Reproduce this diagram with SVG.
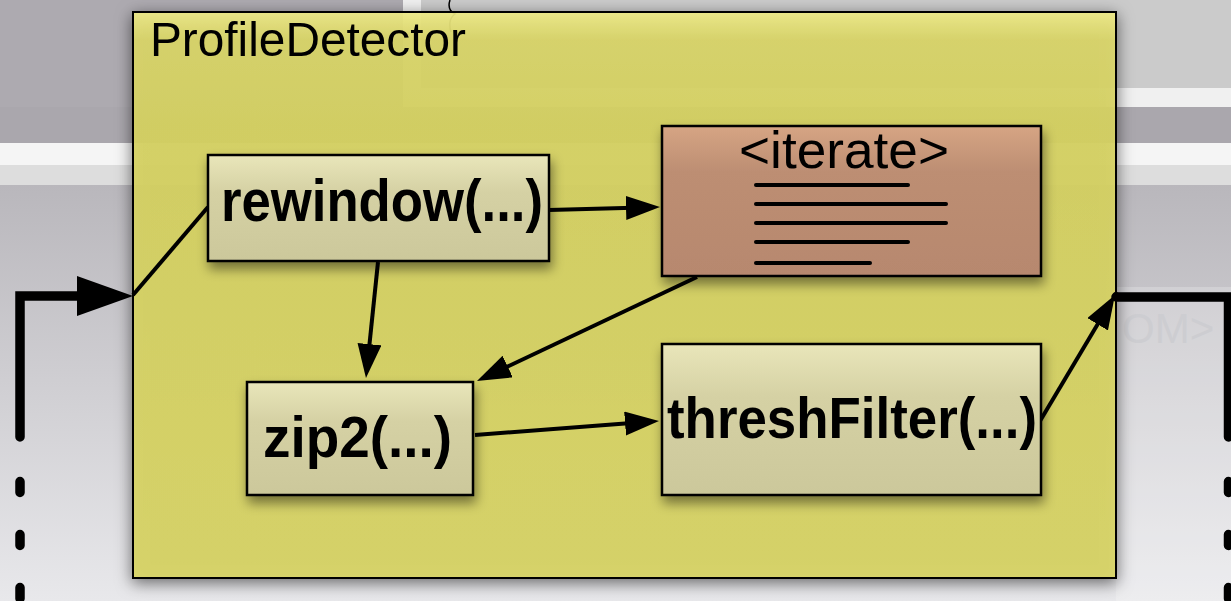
<svg xmlns="http://www.w3.org/2000/svg" width="1231" height="601" viewBox="0 0 1231 601">
  <defs>
    <linearGradient id="bgLow" x1="0" y1="185" x2="0" y2="601" gradientUnits="userSpaceOnUse">
      <stop offset="0" stop-color="#b9b7bc"/>
      <stop offset="1" stop-color="#e8e8eb"/>
    </linearGradient>
    <linearGradient id="outerFill" x1="0" y1="0" x2="0" y2="1">
      <stop offset="0" stop-color="#f0ec86"/>
      <stop offset="0.05" stop-color="#dcd86a"/>
      <stop offset="0.2" stop-color="#d8d463"/>
      <stop offset="1" stop-color="#dad665"/>
    </linearGradient>
    <linearGradient id="opFill" x1="0" y1="0" x2="0" y2="1">
      <stop offset="0" stop-color="#e9e6ba"/>
      <stop offset="0.35" stop-color="#d5d1a4"/>
      <stop offset="1" stop-color="#ccc89b"/>
    </linearGradient>
    <linearGradient id="iterFill" x1="0" y1="0" x2="0" y2="1">
      <stop offset="0" stop-color="#d6a584"/>
      <stop offset="0.3" stop-color="#bd8e73"/>
      <stop offset="1" stop-color="#b7886e"/>
    </linearGradient>
    <filter id="outerShadow" x="-10%" y="-10%" width="120%" height="125%">
      <feDropShadow dx="0" dy="4" stdDeviation="8" flood-color="#000" flood-opacity="0.6"/>
    </filter>
    <filter id="boxShadow" x="-15%" y="-20%" width="130%" height="150%">
      <feDropShadow dx="2" dy="7" stdDeviation="6" flood-color="#000" flood-opacity="0.45"/>
    </filter>
    <marker id="arrow" markerUnits="userSpaceOnUse" markerWidth="40" markerHeight="30" refX="26" refY="12" orient="auto">
      <path d="M0,0 L34,12 L0,24 Z" fill="#000"/>
    </marker>
    <style>
      .edge { fill: none; stroke: #000; stroke-width: 4; }
      .wire { fill: none; stroke: #000; stroke-width: 9.5; stroke-linecap: round; }
      .dash { fill: none; stroke: #000; stroke-width: 9.5; stroke-linecap: round; stroke-dasharray: 11 42; }
      .op { fill: url(#opFill); stroke: #000; stroke-width: 2.5; }
      .opLabel { font-family: "Liberation Sans", Arial, sans-serif; font-weight: bold; font-size: 53px; fill: #000; }
      .code { stroke: #000; stroke-width: 4; stroke-linecap: round; }
    </style>
  </defs>

  <!-- backdrop panels -->
  <g id="backdrop">
    <rect x="0" y="0" width="1231" height="143" fill="#adaab0"/>
    <rect x="403" y="0" width="828" height="107" fill="#f0f0f0"/>
    <rect x="421" y="0" width="810" height="88" fill="#cbcbcb"/>
    <rect x="0" y="107" width="1231" height="36" fill="#aaa7ad"/>
    <rect x="0" y="143" width="1231" height="22" fill="#f5f5f5"/>
    <rect x="0" y="165" width="1231" height="20" fill="#dddddd"/>
    <rect x="0" y="185" width="1231" height="416" fill="url(#bgLow)"/>
    <rect x="1116" y="287" width="115" height="314" fill="#ffffff" fill-opacity="0.22"/>
    <path d="M450,0 C448,6 449,11 455,14 C449,18 449,26 451,32" fill="none" stroke="#000" stroke-width="1.5"/>
    <text x="1122" y="343" font-family="Liberation Sans, Arial, sans-serif" font-size="42" fill="#cdcdd1">OM&gt;</text>
  </g>

  <!-- outer operator box -->
  <g id="ProfileDetector">
    <rect x="133" y="12" width="983" height="566" fill="url(#outerFill)" fill-opacity="0.9" stroke="#000" stroke-width="2" filter="url(#outerShadow)"/>
    <text transform="translate(150,56) scale(1,1.04)" font-family="Liberation Sans, Arial, sans-serif" font-size="47" textLength="316" lengthAdjust="spacingAndGlyphs" fill="#000">ProfileDetector</text>
  </g>

  <!-- stream wires into and out of the box -->
  <g id="connectors">
    <path class="wire" d="M20,437 L20,296 L82,296" stroke-linejoin="miter"/>
    <polygon points="77,276 133,296 77,316" fill="#000"/>
    <line class="dash" x1="20" y1="481.5" x2="20" y2="620"/>
    <path class="wire" d="M1116,297 L1228.5,297 L1228.5,437" stroke-linejoin="miter" stroke-linecap="butt"/>
    <line class="dash" x1="1228.5" y1="481.5" x2="1228.5" y2="620"/>
    <circle cx="1116" cy="295" r="3" fill="#000"/>

    <line class="edge" x1="133" y1="295" x2="208" y2="207"/>
    <line class="edge" x1="549" y1="210" x2="652" y2="207.2" marker-end="url(#arrow)"/>
    <line class="edge" x1="378" y1="262" x2="366.8" y2="370" marker-end="url(#arrow)"/>
    <line class="edge" x1="697" y1="277" x2="484.2" y2="377.6" marker-end="url(#arrow)"/>
    <line class="edge" x1="475" y1="435" x2="651" y2="421.6" marker-end="url(#arrow)"/>
    <line class="edge" x1="1040" y1="421" x2="1110.9" y2="301.9" marker-end="url(#arrow)"/>
  </g>

  <g id="rewindow">
    <rect class="op" x="208" y="155" width="341" height="106" filter="url(#boxShadow)"/>
    <text class="opLabel" transform="translate(221,221) scale(1,1.1)" textLength="322" lengthAdjust="spacingAndGlyphs">rewindow(...)</text>
  </g>

  <g id="iterate">
    <rect x="662" y="126" width="379" height="150" fill="url(#iterFill)" stroke="#000" stroke-width="2.5" filter="url(#boxShadow)"/>
    <text transform="translate(739,168) scale(1,1.05)" font-family="Liberation Sans, Arial, sans-serif" font-size="50" textLength="210" lengthAdjust="spacingAndGlyphs" fill="#000">&lt;iterate&gt;</text>
    <line class="code" x1="756" y1="185" x2="908" y2="185"/>
    <line class="code" x1="756" y1="204" x2="946" y2="204"/>
    <line class="code" x1="756" y1="223" x2="946" y2="223"/>
    <line class="code" x1="756" y1="242" x2="908" y2="242"/>
    <line class="code" x1="756" y1="263" x2="870" y2="263"/>
  </g>

  <g id="zip2">
    <rect class="op" x="247" y="382" width="226" height="113" filter="url(#boxShadow)"/>
    <text class="opLabel" transform="translate(263,457) scale(1,1.08)" font-size="54" textLength="189" lengthAdjust="spacingAndGlyphs">zip2(...)</text>
  </g>

  <g id="threshFilter">
    <rect class="op" x="662" y="344" width="379" height="151" filter="url(#boxShadow)"/>
    <text class="opLabel" transform="translate(667,438) scale(1,1.07)" textLength="370" lengthAdjust="spacingAndGlyphs">threshFilter(...)</text>
  </g>
</svg>
